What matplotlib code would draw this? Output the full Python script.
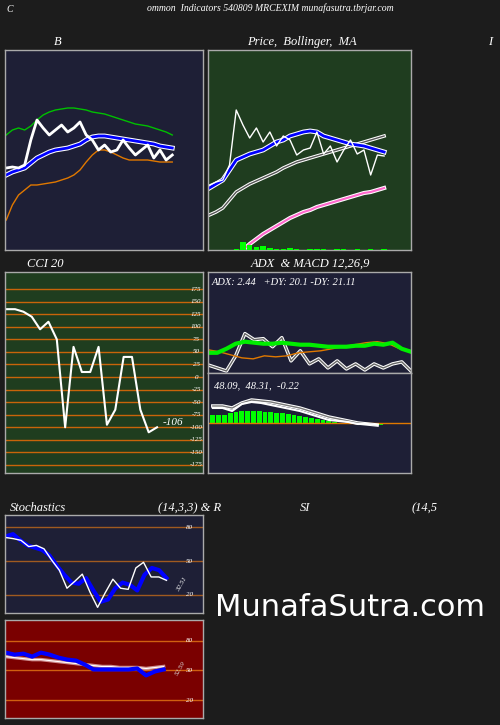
import matplotlib
matplotlib.use("Agg")
import matplotlib.pyplot as plt
import numpy as np

plt.rcParams['font.family'] = ['Liberation Serif', 'DejaVu Serif']
plt.rcParams['font.style'] = 'italic'

W, H = 500, 725
BG = '#1c1c1c'; NAVY = '#1e1f36'; GREEN = '#1f3d1f'; RED = '#7a0000'
BORDER = '#aaaaaa'; ORANGE = '#c8640a'

# ---- data ----
bb_price = [82,83,82,85,110,130,122,115,120,125,118,122,128,115,110,100,105,98,100,110,102,95,100,105,92,100,90,95]
bb_upper = [115,120,122,120,124,130,135,138,140,141,142,142,141,140,138,137,136,134,132,130,128,126,125,124,122,120,118,115]
bb_mid = [75,78,80,82,87,92,95,98,100,101,102,104,106,110,113,114,114,113,112,111,110,109,108,107,106,104,103,102]
bb_lower = [30,45,55,60,65,65,66,67,68,70,72,75,80,88,95,100,100,98,95,92,90,90,90,90,89,88,88,88]

pr_price = [65,68,70,85,140,125,112,122,108,118,104,114,110,95,100,102,118,96,104,88,100,110,96,100,75,95,94]
pr_ma1 = [62,66,70,80,90,93,96,98,100,104,108,110,114,116,118,119,118,114,112,110,108,106,105,104,102,100,98]
pr_ma2 = [35,38,42,50,58,62,66,69,72,75,78,82,85,88,90,92,94,96,98,100,102,104,106,108,110,112,114]
pr_ma3 = [None]*5 + [0,6,11,16,20,24,28,32,35,38,40,43,45,47,49,51,53,55,57,58,60,62]
pr_vol = [0,0,0,0,1,8,5,3,4,2,1,1,2,1,0,1,1,1,0,1,1,0,1,0,1,0,1]

cci = [135,135,130,120,95,110,75,-100,60,10,10,60,-95,-65,40,40,-65,-110,-100]
cci_ticks = [175,150,125,100,75,50,25,0,-25,-50,-75,-100,-125,-150,-175]

adx_green = [20,20,24,29,31,30,29,29,30,29,28,28,27,26,26,26,27,27,29,28,30,24,21]
adx_orange = [23,21,18,15,14,17,16,17,20,21,22,24,26,28,30,31,29,24,22]
adx_white = [8,5,2,17,39,33,34,26,35,12,22,9,14,5,12,4,9,3,9,5,9,11,2]
macd_line = [15,15,12,19,21,20,18,16,14,12,9,6,3,2,1,-1,-1,-2]
macd_signal = [17,17,15,20,23,22,21,19,17,15,12,9,6,4,2,0,-1,-2]
macd_hist = [8,8,8,10,11,12,12,12,12,11,11,10,10,9,8,7,6,5,4,3,2,1,0,0,-1,-1,-1,-2,-2,-2]

stoch_blue = [72,74,68.5,64,62,60,55,46,38,31,30,35,24,14,16,26,31,29,24,38,44,42,35]
stoch_white = [71,70,68.5,63,64,61,51,42,26,32,38.5,22.6,9,22,34,26,25,44,49,36,36,33]
rsi_blue = [68,66,67,64,68,66,63,61,60,56,51,51,51,51,51,52,45,49,51]
rsi_white = [64,63,62,61,61,60,59,58,57,56,55,54,54,53,53,53,52,53,54]

fig = plt.figure(figsize=(W/100, H/100), dpi=100, facecolor=BG)

def ax_px(x0, y0, x1, y1, fc):
    a = fig.add_axes([x0/W, 1-y1/H, (x1-x0)/W, (y1-y0)/H], facecolor=fc)
    a.set_xticks([]); a.set_yticks([])
    for s in a.spines.values():
        s.set_color(BORDER); s.set_linewidth(1)
    return a

def txt(x, y, s, size=9, **kw):
    fig.text(x/W, 1-y/H, s, color='white', fontsize=size, ha='center', va='center', **kw)

txt(10, 9, 'C', 7)
txt(270, 8, 'ommon  Indicators 540809 MRCEXIM munafasutra.tbrjar.com', 7)
txt(58, 42, 'B', 9); txt(302, 42, 'Price,  Bollinger,  MA', 9)
txt(490, 42, 'I', 9)
txt(45, 264, 'CCI 20', 9); txt(310, 264, 'ADX  & MACD 12,26,9', 9)
txt(38, 508, 'Stochastics', 9); txt(190, 508, '(14,3,3) & R', 9)
txt(305, 508, 'SI', 9); txt(425, 508, '(14,5', 9)
fig.text(215/W, 1-607/H, 'MunafaSutra.com', color='white', fontsize=22, ha='left', va='center', style='normal', family='DejaVu Sans')

# Bollinger
a = ax_px(5, 50, 203, 250, NAVY)
x = np.arange(len(bb_price))
a.plot(x, bb_upper, color='#00c000', lw=1)
a.plot(x, bb_mid, color='white', lw=3.5); a.plot(x, bb_mid, color='blue', lw=2)
a.plot(x, bb_lower, color='#e07800', lw=1)
a.plot(x, bb_price, color='white', lw=2)
a.set_xlim(-0.2, 32); a.set_ylim(0, 200)

# Price
a = ax_px(208, 50, 411, 250, GREEN)
x = np.arange(len(pr_price))
a.bar(x, pr_vol, color='#00ff00', width=0.8, zorder=3)
a.plot(x, pr_ma3, color='white', lw=3); a.plot(x, pr_ma3, color='#ff66cc', lw=1.5)
a.plot(x, pr_ma2, color='white', lw=2.5); a.plot(x, pr_ma2, color='#555555', lw=1)
a.plot(x, pr_ma1, color='white', lw=3.5); a.plot(x, pr_ma1, color='blue', lw=2)
a.plot(x, pr_price, color='white', lw=1)
a.set_xlim(-0.2, 30); a.set_ylim(0, 200)

# CCI
a = ax_px(5, 272, 203, 473, GREEN)
for t in cci_ticks:
    a.axhline(t, color=ORANGE, lw=1)
    a.text(0.965, t, str(t), transform=a.get_yaxis_transform(), color='white', fontsize=5, ha='center', va='center')
x = np.arange(len(cci))
a.plot(x, cci, color='white', lw=1.5)
a.text(len(cci)-0.3, cci[-1]+10, '-106', color='white', fontsize=8, va='center')
a.set_xlim(-0.2, 23.5); a.set_ylim(-191, 209)

# ADX
a = ax_px(208, 272, 411, 373, NAVY)
a.plot(np.arange(len(adx_white)), adx_white, color='white', lw=2.5)
a.plot(np.arange(len(adx_white)), adx_white, color='#666666', lw=1)
a.plot(np.arange(len(adx_orange))*22/18, adx_orange, color='#e07800', lw=1)
a.plot(np.arange(len(adx_green)), adx_green, color='#00ee00', lw=3)
a.text(0.02, 0.9, 'ADX: 2.44   +DY: 20.1 -DY: 21.11', transform=a.transAxes, color='white', fontsize=7.5, va='center')
a.set_xlim(0, 22); a.set_ylim(0, 100)

# MACD
a = ax_px(208, 373, 411, 473, NAVY)
xh = np.arange(len(macd_hist)) * 0.6
a.bar(xh, macd_hist, width=0.5, color='#00ff00')
a.axhline(0, color='#e07800', lw=1)
xm = np.arange(len(macd_line))
a.plot(xm, macd_signal, color='white', lw=2.5); a.plot(xm, macd_signal, color='#777777', lw=1)
a.plot(xm, macd_line, color='white', lw=1.5)
a.text(0.03, 0.87, '48.09,  48.31,  -0.22', transform=a.transAxes, color='white', fontsize=7.5, va='center')
a.set_xlim(-0.5, 20.5); a.set_ylim(-50, 50)

# Stochastics
a = ax_px(5, 515, 203, 613, NAVY)
for t in [80, 50, 20]:
    a.axhline(t, color='#a05a20', lw=1)
    a.text(0.93, t, str(t), transform=a.get_yaxis_transform(), color='white', fontsize=5, ha='center', va='center')
a.plot(np.arange(len(stoch_blue)), stoch_blue, color='blue', lw=3)
a.plot(np.arange(len(stoch_white))*22/21, stoch_white, color='white', lw=1)
a.text(23.2, 29, '32.51', color='white', fontsize=5, rotation=60, va='center')
a.set_xlim(-0.1, 27); a.set_ylim(4, 91)

# RSI
a = ax_px(5, 620, 203, 718, RED)
for t in [80, 50, 20]:
    a.axhline(t, color='#d06010', lw=1)
    a.text(0.93, t, str(t), transform=a.get_yaxis_transform(), color='white', fontsize=5, ha='center', va='center')
a.plot(np.arange(len(rsi_white)), rsi_white, color='#d09090', lw=2.5)
a.plot(np.arange(len(rsi_white)), rsi_white, color='white', lw=0.8)
a.plot(np.arange(len(rsi_blue)), rsi_blue, color='blue', lw=3)
a.text(19.2, 52, '52.59', color='#dddddd', fontsize=5, rotation=60, va='center')
a.set_xlim(-0.1, 22.5); a.set_ylim(2, 101)

fig.savefig('out.png', dpi=100, facecolor=BG)
